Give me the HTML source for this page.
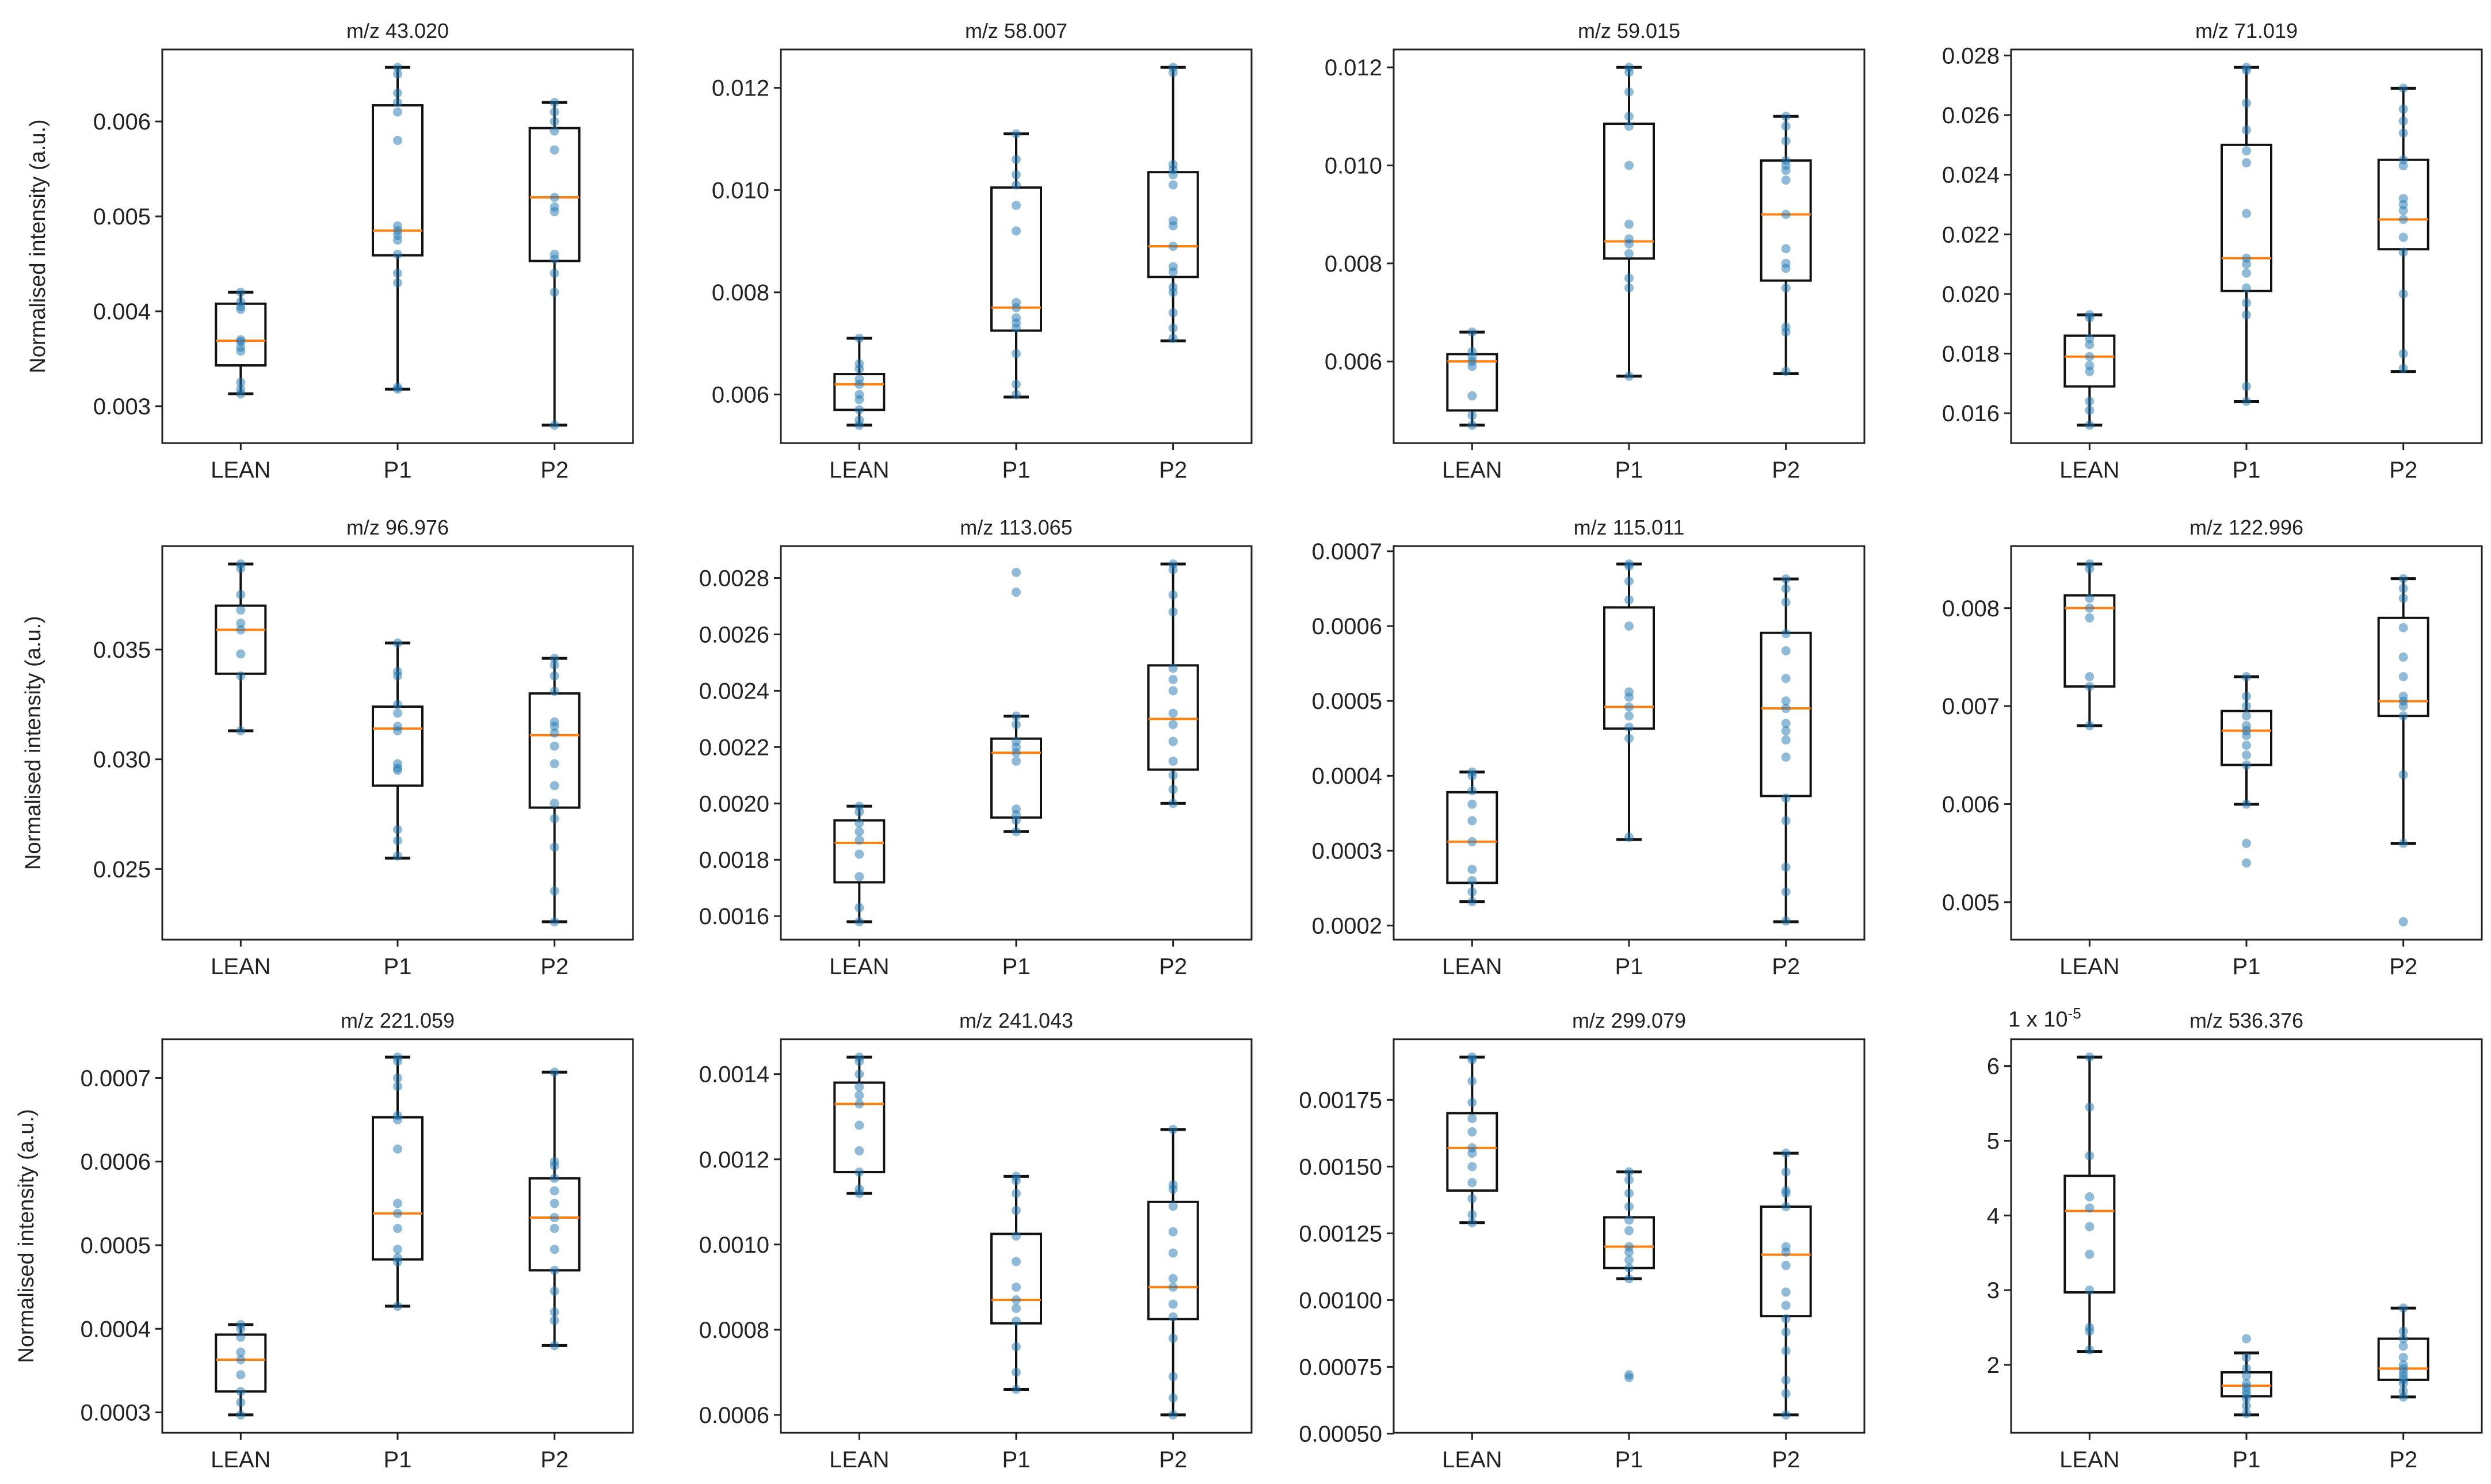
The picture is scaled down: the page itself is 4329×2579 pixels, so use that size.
<!DOCTYPE html>
<html><head><meta charset="utf-8"><style>
html,body{margin:0;padding:0;background:#fff;}
svg{display:block;font-family:"Liberation Sans","DejaVu Sans",sans-serif;}
</style></head><body>
<svg id="fig" width="4329" height="2579" viewBox="0 0 4329 2579" xmlns="http://www.w3.org/2000/svg"></svg>
<script>
const categories = ["LEAN","P1","P2"];
const titles = ["m/z 43.020","m/z 58.007","m/z 59.015","m/z 71.019","m/z 96.976","m/z 113.065","m/z 115.011","m/z 122.996","m/z 221.059","m/z 241.043","m/z 299.079","m/z 536.376"];
// box stats per panel: [group][q1, median, q3, whisker-low, whisker-high]
const stats0 = [[0.00343,0.00369,0.00408,0.00313,0.0042],[0.00459,0.00485,0.00617,0.00318,0.00657],[0.00453,0.0052,0.00593,0.0028,0.0062]];
const stats1 = [[0.0057,0.0062,0.0064,0.0054,0.0071],[0.00725,0.0077,0.01005,0.00595,0.0111],[0.0083,0.0089,0.01035,0.00705,0.0124]];
const stats2 = [[0.005,0.006,0.00615,0.0047,0.0066],[0.0081,0.00845,0.01085,0.0057,0.012],[0.00765,0.009,0.0101,0.00575,0.011]];
const stats3 = [[0.0169,0.0179,0.0186,0.0156,0.0193],[0.0201,0.0212,0.025,0.0164,0.0276],[0.0215,0.0225,0.0245,0.0174,0.0269]];
const stats4 = [[0.0339,0.0359,0.037,0.0313,0.0389],[0.0288,0.0314,0.0324,0.0255,0.0353],[0.0278,0.0311,0.033,0.0226,0.0346]];
const stats5 = [[0.00172,0.00186,0.00194,0.00158,0.00199],[0.00195,0.00218,0.00223,0.0019,0.00231],[0.00212,0.0023,0.00249,0.002,0.00285]];
const stats6 = [[0.000257,0.000312,0.000378,0.000232,0.000405],[0.000463,0.000492,0.000625,0.000315,0.000683],[0.000373,0.00049,0.000591,0.000205,0.000663]];
const stats7 = [[0.0072,0.008,0.00813,0.0068,0.00845],[0.0064,0.00675,0.00695,0.006,0.0073],[0.0069,0.00705,0.0079,0.0056,0.0083]];
const stats8 = [[0.000325,0.000363,0.000393,0.000297,0.000405],[0.000483,0.000538,0.000653,0.000427,0.000725],[0.00047,0.000533,0.00058,0.00038,0.000707]];
const stats9 = [[0.00117,0.00133,0.00138,0.00112,0.00144],[0.000815,0.00087,0.001025,0.00066,0.00116],[0.000825,0.0009,0.0011,0.0006,0.00127]];
const stats10 = [[0.00141,0.00157,0.0017,0.00129,0.00191],[0.00112,0.0012,0.00131,0.00108,0.00148],[0.00094,0.00117,0.00135,0.00057,0.00155]];
const stats11 = [[2.97,4.06,4.53,2.18,6.12],[1.58,1.72,1.9,1.33,2.16],[1.8,1.95,2.35,1.57,2.76]];
// individual points per panel: [group][values]
const pts0 = [[0.0042,0.0041,0.00405,0.00402,0.0037,0.00368,0.00362,0.00358,0.00325,0.00318,0.00313],[0.00657,0.0065,0.0063,0.0062,0.0061,0.0058,0.0049,0.00485,0.0048,0.00475,0.0046,0.0044,0.0043,0.0032,0.00318],[0.0062,0.0061,0.006,0.0059,0.0057,0.0052,0.0051,0.00505,0.0046,0.00455,0.0044,0.0042,0.0028]];
const pts1 = [[0.0071,0.0066,0.0065,0.0063,0.0062,0.006,0.0059,0.0057,0.0055,0.0054],[0.0111,0.0106,0.0103,0.0101,0.0097,0.0092,0.0078,0.0077,0.0075,0.0074,0.0073,0.0068,0.0062,0.006],[0.0124,0.0123,0.0105,0.0104,0.0103,0.0101,0.0094,0.0093,0.0089,0.0085,0.0084,0.0081,0.008,0.0076,0.0073,0.0071]];
const pts2 = [[0.0066,0.0062,0.0061,0.006,0.0059,0.0053,0.0049,0.0047],[0.012,0.0119,0.0115,0.011,0.0108,0.01,0.0088,0.0085,0.0084,0.0082,0.0077,0.0075,0.0057],[0.011,0.0108,0.0105,0.0101,0.01,0.0099,0.0097,0.009,0.0083,0.008,0.0079,0.0075,0.0067,0.0066,0.0058]];
const pts3 = [[0.0193,0.0192,0.0185,0.0183,0.0179,0.0176,0.0174,0.0164,0.0161,0.0156],[0.0276,0.0275,0.0264,0.0255,0.0248,0.0244,0.0227,0.0212,0.021,0.0207,0.0202,0.0197,0.0193,0.0169,0.0164],[0.0269,0.0262,0.0258,0.0254,0.0245,0.0243,0.0232,0.023,0.0228,0.0225,0.0219,0.0214,0.02,0.018,0.0175]];
const pts4 = [[0.0389,0.0387,0.0375,0.0368,0.0362,0.0359,0.0348,0.0338,0.0313],[0.0353,0.034,0.0338,0.0325,0.0321,0.0315,0.0313,0.0298,0.0296,0.0295,0.0268,0.0263,0.0256],[0.0346,0.0343,0.0338,0.0331,0.0317,0.0315,0.0312,0.0306,0.0298,0.0288,0.028,0.0273,0.026,0.024,0.0226]];
const pts5 = [[0.00199,0.00197,0.00193,0.0019,0.00187,0.00182,0.00174,0.00163,0.00158],[0.00282,0.00275,0.00231,0.00228,0.00222,0.0022,0.00218,0.00215,0.00198,0.00196,0.00194,0.0019],[0.00285,0.00283,0.00274,0.00268,0.00248,0.00244,0.0024,0.00232,0.00228,0.00222,0.00215,0.0021,0.00205,0.002]];
const pts6 = [[0.000405,0.0004,0.00038,0.000362,0.00034,0.000312,0.000275,0.00026,0.000245,0.000232],[0.000683,0.00068,0.00066,0.000635,0.0006,0.000512,0.000505,0.000492,0.00048,0.000465,0.00045,0.000318],[0.000663,0.00065,0.000632,0.00059,0.000567,0.00053,0.0005,0.00049,0.00047,0.00046,0.000448,0.000425,0.00037,0.00034,0.000278,0.000245,0.000206]];
const pts7 = [[0.00845,0.0084,0.0081,0.008,0.0079,0.0073,0.0072,0.0068],[0.0073,0.0071,0.007,0.0069,0.0068,0.00675,0.0067,0.0066,0.0065,0.0064,0.006,0.0056,0.0054],[0.0083,0.0082,0.0081,0.0078,0.0075,0.0073,0.0071,0.00705,0.007,0.0069,0.0063,0.0056,0.0048]];
const pts8 = [[0.000405,0.0004,0.00039,0.000372,0.000363,0.000345,0.000325,0.000312,0.000297],[0.000725,0.00072,0.0007,0.00069,0.000655,0.00065,0.000615,0.00055,0.000538,0.00052,0.000495,0.000485,0.00048,0.000427],[0.000707,0.0006,0.000595,0.00058,0.000565,0.00055,0.000533,0.00052,0.000495,0.00047,0.000445,0.00042,0.00041,0.00038]];
const pts9 = [[0.00144,0.00143,0.0014,0.00137,0.00135,0.00133,0.00128,0.00122,0.00117,0.00113,0.00112],[0.00116,0.00115,0.00112,0.00108,0.00102,0.00096,0.0009,0.00087,0.00085,0.00082,0.00076,0.0007,0.00066],[0.00127,0.00114,0.00113,0.00109,0.00103,0.00098,0.00092,0.0009,0.00086,0.00083,0.00078,0.00069,0.00064,0.0006]];
const pts10 = [[0.00191,0.0019,0.00182,0.00174,0.00168,0.00163,0.00157,0.00155,0.0015,0.00144,0.00138,0.00132,0.00129],[0.00148,0.00145,0.0014,0.00135,0.0013,0.00126,0.0012,0.00118,0.00115,0.00112,0.00108,0.00072,0.00071],[0.00155,0.00148,0.00141,0.0014,0.00135,0.0012,0.00118,0.00113,0.00103,0.00098,0.00093,0.00088,0.00081,0.0007,0.00065,0.00057]];
const pts11 = [[6.12,5.45,4.8,4.25,4.1,3.85,3.48,3.0,2.5,2.45,2.2],[2.35,2.1,1.95,1.85,1.75,1.7,1.65,1.6,1.55,1.45,1.35],[2.76,2.45,2.35,2.25,2.1,2.0,1.95,1.9,1.85,1.8,1.75,1.65,1.57]];
// y tick labels per panel
const ticks0 = ["0.003","0.004","0.005","0.006"];
const ticks1 = ["0.006","0.008","0.010","0.012"];
const ticks2 = ["0.006","0.008","0.010","0.012"];
const ticks3 = ["0.016","0.018","0.020","0.022","0.024","0.026","0.028"];
const ticks4 = ["0.025","0.030","0.035"];
const ticks5 = ["0.0016","0.0018","0.0020","0.0022","0.0024","0.0026","0.0028"];
const ticks6 = ["0.0002","0.0003","0.0004","0.0005","0.0006","0.0007"];
const ticks7 = ["0.005","0.006","0.007","0.008"];
const ticks8 = ["0.0003","0.0004","0.0005","0.0006","0.0007"];
const ticks9 = ["0.0006","0.0008","0.0010","0.0012","0.0014"];
const ticks10 = ["0.00050","0.00075","0.00100","0.00125","0.00150","0.00175"];
const ticks11 = ["2","3","4","5","6"];

const allStats=[stats0,stats1,stats2,stats3,stats4,stats5,stats6,stats7,stats8,stats9,stats10,stats11];
const allPts=[pts0,pts1,pts2,pts3,pts4,pts5,pts6,pts7,pts8,pts9,pts10,pts11];
const allTicks=[ticks0,ticks1,ticks2,ticks3,ticks4,ticks5,ticks6,ticks7,ticks8,ticks9,ticks10,ticks11];

const NS="http://www.w3.org/2000/svg";
const svg=document.getElementById('fig');
const colX=[282,1357,2422,3495];
const rowY=[86,949,1806];
const W=818,H=684;
function mk(tag,attrs,parent){const e=document.createElementNS(NS,tag);for(const k in attrs)e.setAttribute(k,attrs[k]);(parent||svg).appendChild(e);return e;}

for(let p=0;p<12;p++){
  const c=p%4,r=Math.floor(p/4);
  const x0=colX[c],y0=rowY[r];
  const g=mk('g',{});
  
  
  const st=allStats[p],pts=allPts[p];
  let mn=Infinity,mx=-Infinity;
  st.forEach(s=>s.forEach(v=>{mn=Math.min(mn,v);mx=Math.max(mx,v);}));
  pts.forEach(a=>a.forEach(v=>{mn=Math.min(mn,v);mx=Math.max(mx,v);}));
  const pad=(mx-mn)*0.05,lo=mn-pad,hi=mx+pad;
  const ys=v=>y0+H-(v-lo)/(hi-lo)*H;
  const xs=i=>x0+(i+1-0.5)/3*W;
  // title
  const t=mk('text',{x:x0+W/2,y:y0-20,'text-anchor':'middle','font-size':36,fill:'#222'},g);
  t.textContent=titles[p];
  
  
  // y ticks
  allTicks[p].forEach(lbl=>{
    const v=parseFloat(lbl);const y=ys(v);
    mk('line',{x1:x0-12,x2:x0,y1:y,y2:y,stroke:'#222','stroke-width':3},g);
    const tt=mk('text',{x:x0-20,y:y+14,'text-anchor':'end','font-size':40,fill:'#222'},g);
    tt.textContent=lbl;
    
    
  });
  // x ticks
  categories.forEach((cat,i)=>{
    const x=xs(i);
    mk('line',{x1:x,x2:x,y1:y0+H,y2:y0+H+12,stroke:'#222','stroke-width':3},g);
    const tt=mk('text',{x:x,y:y0+H+60,'text-anchor':'middle','font-size':40,fill:'#222'},g);
    tt.textContent=cat;
    
    
  });
  // boxes
  st.forEach((s,i)=>{
    const x=xs(i),bw=86,cw=44;
    const bg=mk('g',{},g);
    
    
    mk('line',{x1:x,x2:x,y1:ys(s[4]),y2:ys(s[2]),stroke:'#111','stroke-width':4},bg);
    mk('line',{x1:x,x2:x,y1:ys(s[0]),y2:ys(s[3]),stroke:'#111','stroke-width':4},bg);
    mk('line',{x1:x-cw/2,x2:x+cw/2,y1:ys(s[4]),y2:ys(s[4]),stroke:'#111','stroke-width':5},bg);
    mk('line',{x1:x-cw/2,x2:x+cw/2,y1:ys(s[3]),y2:ys(s[3]),stroke:'#111','stroke-width':5},bg);
    mk('rect',{x:x-bw/2,y:ys(s[2]),width:bw,height:ys(s[0])-ys(s[2]),fill:'none',stroke:'#111','stroke-width':4},bg);
    const md=mk('line',{x1:x-bw/2,x2:x+bw/2,y1:ys(s[1]),y2:ys(s[1]),stroke:'#ff7f0e','stroke-width':4},bg);
    
    
  });
  // points
  pts.forEach((a,i)=>{
    a.forEach(v=>{
      const ci=mk('circle',{cx:xs(i),cy:ys(v),r:8,fill:'#1f77b4','fill-opacity':0.5},g);
      
      
    });
  });
  // frame
  const fr=mk('rect',{x:x0,y:y0,width:W,height:H,fill:'none',stroke:'#222','stroke-width':3},g);
  
  
  if(c===0){
    const lx=(r===2)?58:(r===1?70:78);
    const yl=mk('text',{x:lx,y:y0+H/2,'text-anchor':'middle','font-size':38,fill:'#222',transform:'rotate(-90 '+lx+' '+(y0+H/2)+')'},g);
    yl.textContent='Normalised intensity (a.u.)';
    
    
  }
  if(p===11){
    const off=mk('text',{x:x0-5,y:y0-22,'font-size':38,fill:'#222'},g);
    off.textContent='1 x 10';
    const sup=mk('tspan',{dy:-14,'font-size':26},off);
    sup.textContent='-5';
    
    
  }
}
</script>
</body></html>
